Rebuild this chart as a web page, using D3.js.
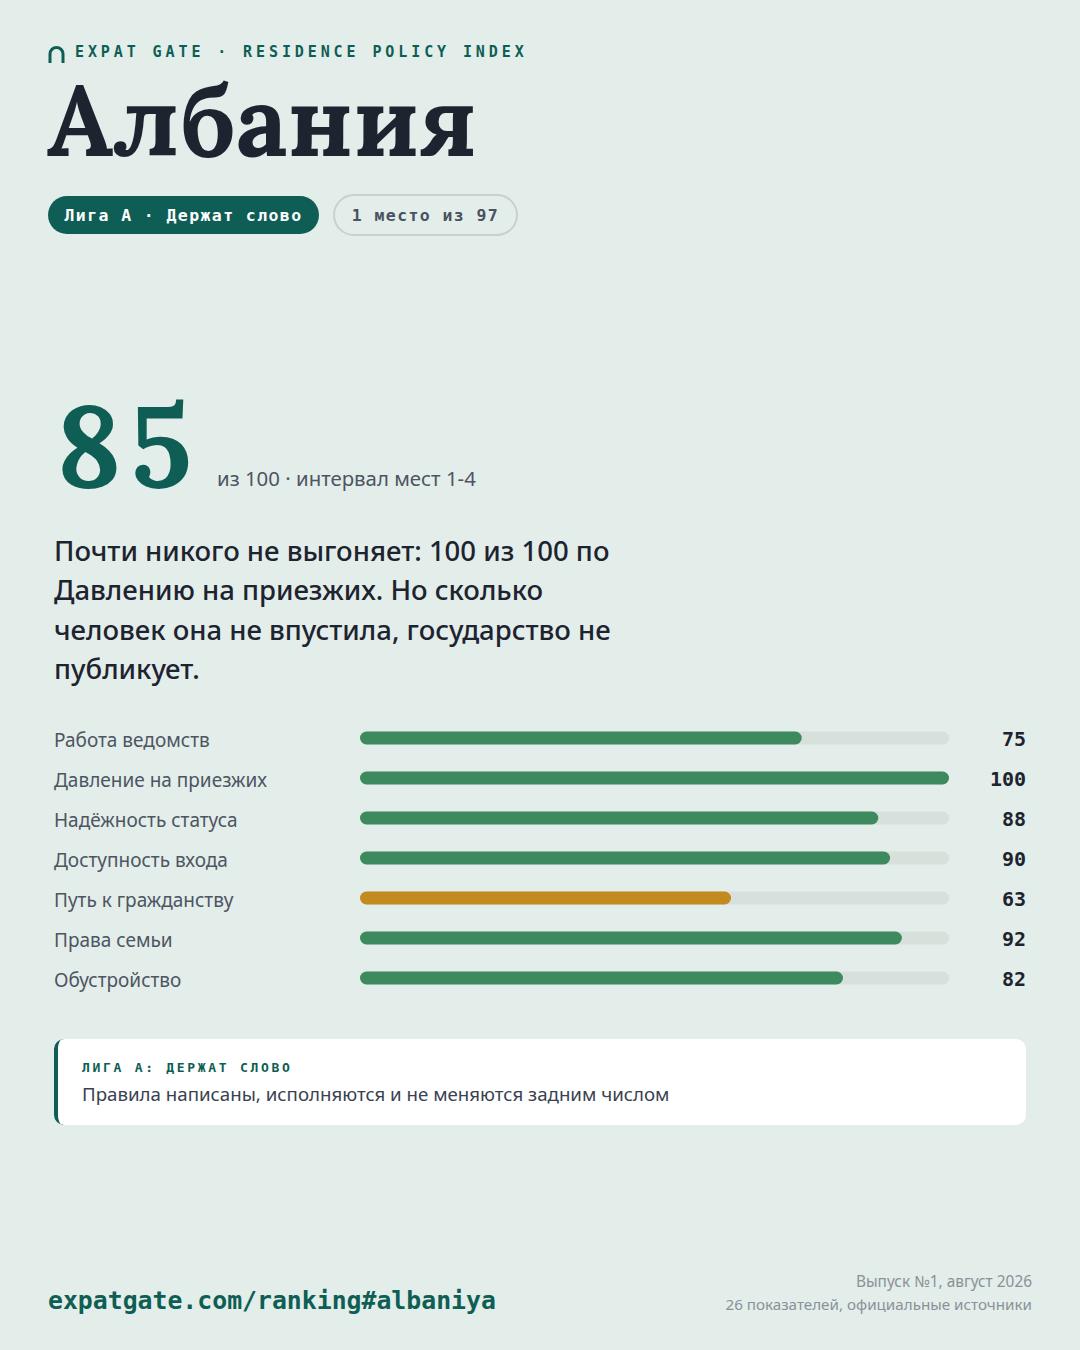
<!DOCTYPE html>
<html><head><meta charset="utf-8">
<script src="https://cdn.jsdelivr.net/npm/d3@7"></script>
<style>
html,body{margin:0;padding:0;background:#e3ede9;}
svg{display:block;}
</style></head>
<body>
<svg id="c" width="1080" height="1350"></svg>
<script>
const categories = ["Работа ведомств","Давление на приезжих","Надёжность статуса","Доступность входа","Путь к гражданству","Права семьи","Обустройство"];
const scores = [75,100,88,90,63,92,82];
const headline = ["Почти никого не выгоняет: 100 из 100 по","Давлению на приезжих. Но сколько","человек она не впустила, государство не","публикует."];
const country = "Албания";
const totalScore = 85;

const C = {bg:"#e3ede9", teal:"#0f5e55", ink:"#1e2330", gray:"#4d5563", green:"#3d8a5f", amber:"#c28a1f", track:"#d8e0dc", light:"#8a9199"};
const mono = "'DejaVu Sans Mono', monospace";
const sans = "'Noto Sans', sans-serif";
const serif = "'Lora', 'Liberation Serif', serif";

const svg = d3.select("#c");
svg.append("rect").attr("width",1080).attr("height",1350).attr("fill",C.bg);

// header logo + kicker
svg.append("path").attr("d","M50,63 V54 A6.5,6.5 0 0 1 63,54 V63")
  .attr("fill","none").attr("stroke",C.teal).attr("stroke-width",3);
svg.append("text").attr("x",75).attr("y",57).text("EXPAT GATE · RESIDENCE POLICY INDEX")
  .attr("font-family",mono).attr("font-weight","bold").attr("font-size",15)
  .attr("letter-spacing","3.9px").attr("fill",C.teal);

svg.append("text").attr("x",47).attr("y",156).text(country)
  .attr("font-family",serif).attr("font-weight",700).attr("font-size",99)
  .attr("fill",C.ink);

// pills
const p1 = svg.append("g");
p1.append("rect").attr("x",48).attr("y",196).attr("width",271).attr("height",38).attr("rx",19).attr("fill",C.teal);
p1.append("text").attr("x",183.5).attr("y",221).attr("text-anchor","middle").text("Лига А · Держат слово")
  .attr("font-family",mono).attr("font-weight","bold").attr("font-size",16.5).attr("letter-spacing","1.4px").attr("fill","#ffffff");
const p2 = svg.append("g");
p2.append("rect").attr("x",334).attr("y",195).attr("width",183).attr("height",40).attr("rx",20)
  .attr("fill","none").attr("stroke","#c9d0cd").attr("stroke-width",2);
p2.append("text").attr("x",425.5).attr("y",221).attr("text-anchor","middle").text("1 место из 97")
  .attr("font-family",mono).attr("font-weight","bold").attr("font-size",16.5).attr("letter-spacing","1.4px").attr("fill","#4a5160");

// big score
svg.append("text").attr("x",56).attr("y",487).text(totalScore)
  .attr("font-family",serif).attr("font-weight",700).attr("font-size",114)
  .attr("letter-spacing","9px").style("font-variant-numeric","lining-nums").attr("fill",C.teal);
svg.append("text").attr("x",217).attr("y",486).text("из 100 · интервал мест 1-4")
  .attr("font-family",sans).attr("font-size",20.4).attr("fill",C.gray);

// headline
svg.append("g").selectAll("text").data(headline).join("text")
  .attr("x",54).attr("y",(d,i)=>561+i*39.3).text(d=>d)
  .attr("font-family",sans).attr("font-weight",500).attr("font-size",27.5).attr("fill",C.ink);

// bars
const x = d3.scaleLinear().domain([0,100]).range([360,949]);
const y = d3.scaleBand().domain(categories).range([718,998]).paddingInner(0);
const bh = 13;
const rows = svg.append("g").selectAll("g").data(categories.map((c,i)=>({c,v:scores[i]}))).join("g")
  .attr("transform",d=>`translate(0,${y(d.c)+y.bandwidth()/2})`);
rows.append("text").attr("x",54).attr("y",9).text(d=>d.c)
  .attr("font-family",sans).attr("font-size",19).attr("fill",C.gray);
rows.append("rect").attr("x",x(0)).attr("y",-bh/2).attr("width",x(100)-x(0)).attr("height",bh).attr("rx",bh/2).attr("fill",C.track);
rows.append("rect").attr("x",x(0)).attr("y",-bh/2).attr("width",d=>x(d.v)-x(0)).attr("height",bh).attr("rx",bh/2)
  .attr("fill",d=>d.v>=70?C.green:C.amber);
rows.append("text").attr("x",1026).attr("y",8).attr("text-anchor","end").text(d=>d.v)
  .attr("font-family",mono).attr("font-weight","bold").attr("font-size",20).attr("fill",C.ink);

// card
const card = svg.append("g");
card.append("rect").attr("x",54).attr("y",1039).attr("width",972).attr("height",86).attr("rx",10).attr("fill","#ffffff");
card.append("path").attr("d","M64,1039 A10,10 0 0 0 54,1049 V1115 A10,10 0 0 0 64,1125 H62 A5,10 0 0 1 58,1115 V1049 A5,10 0 0 1 62,1039 Z").attr("fill",C.teal);
card.append("text").attr("x",82).attr("y",1072).text("ЛИГА А: ДЕРЖАТ СЛОВО")
  .attr("font-family",mono).attr("font-weight","bold").attr("font-size",13).attr("letter-spacing","2.7px").attr("fill",C.teal);
card.append("text").attr("x",82).attr("y",1101).text("Правила написаны, исполняются и не меняются задним числом")
  .attr("font-family",sans).attr("font-size",18.7).attr("fill","#3a4150");

// footer
svg.append("text").attr("x",48).attr("y",1309).text("expatgate.com/ranking#albaniya")
  .attr("font-family",mono).attr("font-weight","bold").attr("font-size",24.8).attr("fill",C.teal);
svg.append("text").attr("x",1032).attr("y",1287).attr("text-anchor","end").text("Выпуск №1, август 2026")
  .attr("font-family",sans).attr("font-size",15.4).attr("fill",C.light);
svg.append("text").attr("x",1032).attr("y",1310).attr("text-anchor","end").text("26 показателей, официальные источники")
  .attr("font-family",sans).attr("font-size",15.2).attr("fill",C.light);
</script>
</body></html>
